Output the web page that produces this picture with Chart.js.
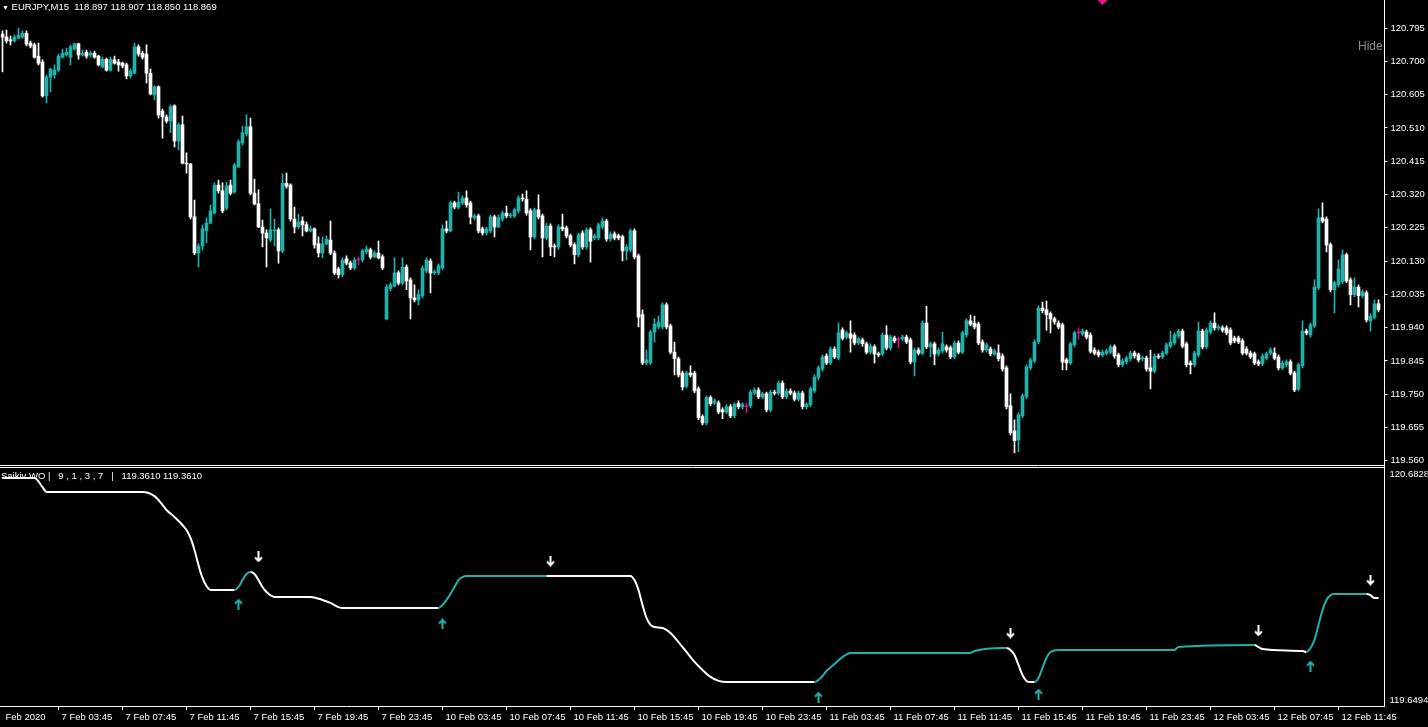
<!DOCTYPE html>
<html>
<head>
<meta charset="utf-8">
<script src="https://cdn.jsdelivr.net/npm/chart.js@4.4.0/dist/chart.umd.min.js"></script>
<style>
  body { margin: 0; background: #000; width: 1428px; height: 727px; overflow: hidden; position: relative; font-family: "Liberation Sans", Arial, sans-serif; }
  canvas { position: absolute; left: 0; }
  #price { top: 0; }
  #osc { top: 466px; }
  .lbl { position: absolute; color: #fff; font-size: 9.5px; white-space: pre; line-height: 11px; }
</style>
</head>
<body>
<canvas id="price" width="1428" height="467"></canvas>
<canvas id="osc" width="1428" height="261"></canvas>
<div class="lbl" style="left:2px;top:1px"><span style="font-size:7px">▼</span> EURJPY,M15  118.897 118.907 118.850 118.869</div>
<div class="lbl" style="left:1px;top:470px">Saikiv WO |   9 , 1 , 3 , 7   |   119.3610 119.3610</div>
<div class="lbl" style="left:1358px;top:41px;color:#8c8c8c;font-size:12px">Hide</div>
<script>
// EURJPY M15 candles, one entry per bar
const opens = [
  120.778,120.769,120.761,120.758,120.766,120.769,120.780,120.752,120.747,120.715,120.698,120.601,120.655,120.661,120.675,
  120.712,120.718,120.712,120.735,120.750,120.718,120.726,120.718,120.723,120.715,120.684,120.706,120.675,120.704,120.698,
  120.695,120.690,120.658,120.666,120.741,120.723,120.721,120.666,120.604,120.627,120.558,120.541,120.530,120.573,120.473,
  120.519,120.409,120.407,120.256,120.153,120.173,120.216,120.238,120.267,120.347,120.330,120.281,120.347,120.327,120.398,
  120.467,120.493,120.513,120.324,120.293,120.227,120.210,120.190,120.216,120.219,120.159,120.352,120.347,120.250,120.227,
  120.244,120.233,120.216,120.222,120.179,120.153,120.179,120.190,120.153,120.107,120.091,120.136,120.124,120.110,120.133,
  120.133,120.156,120.162,120.142,120.153,120.142,119.965,120.051,120.059,120.096,120.067,120.113,120.076,120.025,120.019,
  120.031,120.102,120.130,120.096,120.096,120.110,120.222,120.216,120.296,120.284,120.296,120.310,120.296,120.253,120.259,
  120.222,120.210,120.216,120.256,120.227,120.250,120.267,120.259,120.259,120.273,120.310,120.307,120.273,120.199,120.276,
  120.259,120.196,120.230,120.173,120.170,120.227,120.224,120.202,120.176,120.148,120.210,120.170,120.219,120.196,120.196,
  120.227,120.244,120.193,120.207,120.202,120.199,120.159,120.162,120.216,120.145,119.977,119.839,119.839,119.927,119.942,
  119.942,120.005,119.945,119.870,119.851,119.810,119.773,119.810,119.810,119.765,119.686,119.668,119.740,119.725,119.725,
  119.705,119.699,119.714,119.688,119.723,119.714,119.714,119.717,119.753,119.762,119.742,119.751,119.705,119.756,119.753,
  119.782,119.742,119.759,119.753,119.736,119.753,119.714,119.720,119.759,119.798,119.822,119.859,119.839,119.879,119.853,
  119.933,119.913,119.922,119.919,119.896,119.905,119.894,119.870,119.885,119.865,119.865,119.919,119.882,119.910,119.905,
  119.908,119.913,119.905,119.842,119.876,119.867,119.953,119.885,119.894,119.865,119.873,119.885,119.882,119.856,119.896,
  119.870,119.919,119.959,119.953,119.950,119.899,119.876,119.879,119.865,119.867,119.859,119.825,119.717,119.645,119.620,
  119.688,119.742,119.825,119.845,119.899,119.996,119.991,119.980,119.965,119.953,119.948,119.848,119.839,119.891,119.925,
  119.922,119.927,119.919,119.876,119.870,119.862,119.867,119.870,119.885,119.862,119.834,119.842,119.851,119.867,119.862,
  119.851,119.853,119.825,119.816,119.859,119.856,119.867,119.887,119.896,119.916,119.930,119.894,119.839,119.834,119.862,
  119.930,119.885,119.927,119.953,119.939,119.939,119.939,119.933,119.910,119.910,119.902,119.879,119.867,119.865,119.842,
  119.836,119.853,119.867,119.867,119.856,119.825,119.834,119.842,119.810,119.765,119.831,119.930,119.919,119.945,120.053,
  120.253,120.250,120.176,120.048,120.062,120.071,120.148,120.076,120.034,120.056,120.031,120.039,119.959,119.970,120.008
];
const highs = [
  120.787,120.789,120.772,120.775,120.795,120.787,120.787,120.758,120.752,120.752,120.704,120.661,120.681,120.690,120.721,
  120.735,120.738,120.747,120.752,120.752,120.732,120.732,120.729,120.729,120.718,120.712,120.709,120.712,120.715,120.706,
  120.698,120.695,120.678,120.752,120.747,120.729,120.747,120.678,120.630,120.630,120.564,120.547,120.576,120.576,120.524,
  120.544,120.439,120.409,120.304,120.179,120.233,120.253,120.290,120.353,120.361,120.353,120.355,120.361,120.409,120.476,
  120.515,120.547,120.538,120.364,120.333,120.247,120.219,120.279,120.250,120.225,120.379,120.381,120.350,120.284,120.264,
  120.256,120.241,120.230,120.225,120.199,120.199,120.202,120.244,120.159,120.113,120.139,120.145,120.130,120.139,120.142,
  120.164,120.173,120.167,120.159,120.187,120.148,120.062,120.068,120.139,120.102,120.139,120.119,120.082,120.062,120.048,
  120.116,120.139,120.136,120.105,120.122,120.233,120.244,120.301,120.301,120.327,120.316,120.330,120.301,120.264,120.264,
  120.227,120.227,120.261,120.261,120.261,120.273,120.287,120.267,120.281,120.316,120.321,120.330,120.279,120.281,120.319,
  120.264,120.238,120.236,120.179,120.233,120.264,120.230,120.207,120.182,120.210,120.216,120.225,120.225,120.207,120.238,
  120.253,120.250,120.213,120.213,120.207,120.204,120.176,120.222,120.222,120.150,119.991,119.876,119.933,119.965,119.973,
  120.011,120.011,119.950,119.899,119.856,119.816,119.816,119.831,119.816,119.771,119.691,119.745,119.745,119.737,119.731,
  119.711,119.720,119.720,119.725,119.731,119.725,119.725,119.762,119.768,119.768,119.756,119.756,119.762,119.762,119.788,
  119.788,119.765,119.765,119.759,119.759,119.759,119.725,119.771,119.805,119.831,119.862,119.865,119.885,119.885,119.953,
  119.939,119.930,119.959,119.925,119.913,119.910,119.899,119.894,119.891,119.870,119.925,119.945,119.919,119.916,119.913,
  119.919,119.919,119.910,119.882,119.882,119.959,120.001,119.899,119.899,119.882,119.927,119.891,119.888,119.902,119.902,
  119.930,119.965,119.976,119.973,119.956,119.905,119.896,119.885,119.879,119.891,119.865,119.831,119.751,119.677,119.697,
  119.751,119.834,119.853,119.905,120.002,120.013,120.016,119.985,119.970,119.959,119.953,119.853,119.899,119.930,119.939,
  119.936,119.933,119.925,119.882,119.876,119.876,119.879,119.891,119.891,119.867,119.851,119.859,119.873,119.873,119.867,
  119.859,119.859,119.876,119.865,119.865,119.873,119.896,119.930,119.925,119.936,119.936,119.899,119.845,119.873,119.956,
  119.936,119.939,119.959,119.982,119.948,119.945,119.945,119.939,119.916,119.916,119.908,119.885,119.873,119.870,119.848,
  119.865,119.870,119.882,119.882,119.862,119.845,119.848,119.848,119.816,119.839,119.959,119.936,119.953,120.076,120.279,
  120.296,120.256,120.182,120.073,120.133,120.162,120.153,120.082,120.082,120.062,120.048,120.045,119.979,120.019,120.019
];
const lows = [
  120.670,120.752,120.747,120.755,120.764,120.766,120.744,120.738,120.709,120.690,120.598,120.581,120.613,120.652,120.670,
  120.709,120.715,120.690,120.732,120.706,120.715,120.709,120.712,120.709,120.687,120.681,120.672,120.672,120.692,120.672,
  120.681,120.650,120.652,120.664,120.715,120.706,120.638,120.604,120.590,120.538,120.481,120.524,120.496,120.456,120.447,
  120.407,120.381,120.250,120.148,120.113,120.162,120.182,120.236,120.264,120.324,120.267,120.276,120.319,120.324,120.398,
  120.461,120.487,120.319,120.290,120.225,120.170,120.113,120.185,120.173,120.124,120.153,120.338,120.244,120.210,120.222,
  120.202,120.213,120.213,120.167,120.142,120.139,120.176,120.148,120.091,120.082,120.085,120.119,120.105,120.105,120.119,
  120.127,120.150,120.136,120.139,120.136,120.105,119.962,120.045,120.056,120.062,120.062,120.048,119.965,120.013,120.005,
  120.025,120.096,120.039,120.091,120.091,120.105,120.210,120.213,120.279,120.279,120.290,120.284,120.236,120.247,120.210,
  120.204,120.204,120.210,120.199,120.225,120.244,120.253,120.253,120.253,120.267,120.301,120.261,120.162,120.193,120.250,
  120.142,120.190,120.145,120.142,120.164,120.216,120.196,120.170,120.122,120.142,120.164,120.164,120.127,120.190,120.190,
  120.222,120.187,120.187,120.190,120.190,120.130,120.133,120.156,120.136,119.942,119.834,119.834,119.834,119.899,119.936,
  119.936,119.936,119.865,119.805,119.799,119.762,119.768,119.799,119.754,119.677,119.662,119.662,119.717,119.720,119.694,
  119.680,119.694,119.683,119.683,119.708,119.708,119.697,119.711,119.748,119.737,119.737,119.699,119.699,119.748,119.748,
  119.737,119.737,119.748,119.731,119.731,119.708,119.708,119.714,119.754,119.791,119.816,119.834,119.834,119.851,119.848,
  119.905,119.908,119.870,119.891,119.891,119.887,119.865,119.865,119.839,119.856,119.859,119.876,119.876,119.896,119.882,
  119.902,119.894,119.836,119.802,119.862,119.862,119.879,119.856,119.834,119.859,119.867,119.870,119.851,119.851,119.865,
  119.865,119.913,119.945,119.936,119.891,119.870,119.870,119.859,119.859,119.845,119.816,119.708,119.634,119.583,119.586,
  119.683,119.737,119.819,119.839,119.894,119.982,119.933,119.925,119.950,119.936,119.819,119.819,119.834,119.885,119.908,
  119.916,119.908,119.867,119.862,119.856,119.856,119.862,119.865,119.853,119.828,119.828,119.836,119.845,119.853,119.842,
  119.845,119.816,119.765,119.811,119.851,119.851,119.862,119.882,119.891,119.910,119.882,119.828,119.808,119.828,119.856,
  119.879,119.879,119.922,119.933,119.933,119.927,119.919,119.891,119.896,119.894,119.862,119.862,119.851,119.834,119.831,
  119.831,119.848,119.862,119.848,119.819,119.819,119.828,119.805,119.757,119.759,119.825,119.919,119.913,119.939,120.048,
  120.239,120.156,120.042,119.982,120.056,120.065,120.068,120.005,120.028,119.999,120.025,119.956,119.930,119.965,119.985
];
const closes = [
  120.769,120.758,120.758,120.769,120.775,120.780,120.750,120.744,120.712,120.695,120.601,120.655,120.678,120.675,120.715,
  120.723,120.726,120.741,120.750,120.718,120.723,120.715,120.723,120.712,120.690,120.706,120.675,120.706,120.695,120.690,
  120.687,120.658,120.672,120.741,120.721,120.712,120.666,120.607,120.627,120.547,120.541,120.530,120.570,120.473,120.519,
  120.409,120.407,120.256,120.153,120.173,120.222,120.238,120.273,120.347,120.330,120.273,120.344,120.324,120.404,120.470,
  120.496,120.513,120.324,120.293,120.227,120.210,120.196,120.219,120.219,120.159,120.352,120.344,120.250,120.227,120.241,
  120.233,120.216,120.222,120.176,120.153,120.179,120.193,120.153,120.096,120.091,120.133,120.124,120.110,120.133,120.133,
  120.159,120.164,120.142,120.153,120.139,120.110,120.056,120.062,120.096,120.067,120.113,120.073,120.025,120.019,120.034,
  120.110,120.133,120.096,120.099,120.116,120.222,120.216,120.296,120.284,120.298,120.310,120.290,120.256,120.259,120.216,
  120.210,120.222,120.256,120.227,120.253,120.267,120.259,120.262,120.276,120.310,120.307,120.267,120.199,120.276,120.256,
  120.196,120.230,120.170,120.170,120.227,120.222,120.202,120.176,120.148,120.205,120.170,120.219,120.187,120.202,120.233,
  120.244,120.193,120.207,120.196,120.196,120.159,120.170,120.216,120.142,119.970,119.839,119.848,119.927,119.950,119.956,
  120.005,119.942,119.870,119.851,119.805,119.771,119.810,119.805,119.759,119.683,119.668,119.740,119.723,119.731,119.699,
  119.699,119.714,119.688,119.720,119.714,119.720,119.714,119.756,119.762,119.742,119.751,119.705,119.756,119.753,119.782,
  119.742,119.759,119.753,119.736,119.753,119.714,119.720,119.765,119.799,119.825,119.856,119.839,119.879,119.856,119.925,
  119.910,119.925,119.910,119.896,119.908,119.894,119.870,119.887,119.865,119.862,119.919,119.882,119.913,119.902,119.905,
  119.913,119.899,119.842,119.876,119.867,119.953,119.885,119.894,119.865,119.876,119.894,119.876,119.856,119.896,119.870,
  119.925,119.959,119.950,119.942,119.896,119.876,119.891,119.865,119.873,119.851,119.822,119.714,119.640,119.617,119.691,
  119.745,119.828,119.848,119.899,119.996,119.988,119.977,119.965,119.956,119.942,119.842,119.839,119.894,119.925,119.925,
  119.930,119.913,119.873,119.867,119.862,119.870,119.873,119.885,119.859,119.834,119.845,119.853,119.867,119.859,119.848,
  119.853,119.822,119.816,119.859,119.856,119.867,119.891,119.899,119.919,119.930,119.887,119.834,119.834,119.867,119.930,
  119.885,119.933,119.953,119.939,119.942,119.933,119.925,119.896,119.902,119.899,119.867,119.867,119.856,119.839,119.836,
  119.859,119.865,119.876,119.853,119.825,119.839,119.842,119.810,119.762,119.834,119.930,119.925,119.948,120.056,120.253,
  120.244,120.176,120.048,120.068,120.107,120.148,120.073,120.034,120.056,120.031,120.042,119.962,119.973,120.008,119.991
];

// price scale labels of the upper window
const priceTicks = [119.560, 119.655, 119.750, 119.845, 119.940, 120.035, 120.130, 120.225, 120.320, 120.415, 120.510, 120.605, 120.700, 120.795];

// time axis labels (bar index -> text)
const tickBars = [0, 14, 30, 46, 62, 78, 94, 110, 126, 142, 158, 174, 190, 206, 222, 238, 254, 270, 286, 302, 318, 334];
const tickLabels = ['Feb 2020', '7 Feb 03:45', '7 Feb 07:45', '7 Feb 11:45', '7 Feb 15:45', '7 Feb 19:45', '7 Feb 23:45',
  '10 Feb 03:45', '10 Feb 07:45', '10 Feb 11:45', '10 Feb 15:45', '10 Feb 19:45', '10 Feb 23:45',
  '11 Feb 03:45', '11 Feb 07:45', '11 Feb 11:45', '11 Feb 15:45', '11 Feb 19:45', '11 Feb 23:45',
  '12 Feb 03:45', '12 Feb 07:45', '12 Feb 11:45'];

// object marker on the price window
const markBar = 275;
const markPrice = 120.875;

// indicator line, read at its bends; trend: d = falling (white), u = rising (teal)
const indBars = [0, 8, 10, 11, 35, 38, 40, 41, 43, 45, 46, 47, 48, 49, 50, 51, 52, 58, 59, 60, 61, 62, 63, 64, 65, 66, 68, 77, 80, 82, 84, 85,
  109, 110, 111, 112, 113, 114, 115, 116, 136, 157, 158, 159, 160, 161, 162, 163, 165, 167, 169, 171, 173, 175, 177, 179, 181,
  203, 204, 205, 206, 208, 210, 212, 242, 243, 250, 251, 252, 253, 254, 255, 256, 257, 258, 259, 260, 261, 262, 264,
  293, 294, 313, 314, 315, 325, 326, 327, 328, 329, 330, 331, 332, 333, 341, 342, 343, 344];
const indValues = [120.635, 120.635, 120.596, 120.575, 120.575, 120.557, 120.519, 120.497, 120.467, 120.432, 120.410, 120.376, 120.324, 120.259, 120.203, 120.168, 120.151, 120.151,
  120.164, 120.194, 120.220, 120.229, 120.220, 120.194, 120.164, 120.142, 120.121, 120.121, 120.108, 120.095, 120.077, 120.073,
  120.073, 120.086, 120.108, 120.134, 120.164, 120.194, 120.207, 120.212, 120.212, 120.212, 120.194, 120.151, 120.086, 120.030, 120.000, 119.991, 119.987, 119.965, 119.926, 119.883, 119.840, 119.805, 119.775, 119.758, 119.753,
  119.753, 119.762, 119.779, 119.801, 119.831, 119.861, 119.879, 119.879, 119.887, 119.900, 119.900, 119.892, 119.870, 119.827, 119.783, 119.758, 119.753, 119.753, 119.770, 119.814, 119.857, 119.883, 119.892,
  119.892, 119.904, 119.913, 119.904, 119.896, 119.887, 119.883, 119.900, 119.935, 120.000, 120.064, 120.108, 120.129, 120.134, 120.134, 120.129, 120.116, 120.116];
const indTrend = ['d','d','d','d','d','d','d','d','d','d','d','d','d','d','d','d','d','d',
  'u','u','u','u','d','d','d','d','d','d','d','d','d','d',
  'd','u','u','u','u','u','u','u','u','d','d','d','d','d','d','d','d','d','d','d','d','d','d','d','d',
  'd','u','u','u','u','u','u','u','u','u','u','d','d','d','d','d','d','d','u','u','u','u','u',
  'u','u','u','d','d','d','d','u','u','u','u','u','u','u','u','d','d','d'];
const indScale = [120.6828, 119.6494];

// signal arrows
const downArrowBars = [64, 137, 252, 314, 342];
const downArrowValues = [120.294, 120.276, 119.965, 119.974, 120.194];
const upArrowBars = [59, 110, 204, 259, 327];
const upArrowValues = [120.090, 120.004, 119.688, 119.701, 119.822];

const bull = '#20b2aa';
const bear = '#ffffff';
const doji = '#c71585';
const axisFont = { family: 'Liberation Sans', size: 9.5 };

Chart.defaults.color = '#fff';
Chart.defaults.font.family = 'Liberation Sans';

const candleColors = closes.map((c, i) => c > opens[i] ? bull : (c < opens[i] ? bear : doji));
const slots = opens.map((_, i) => i).concat([opens.length]);

// scales must not eat into the plot area for their labels
function noPad(s) {
    s.paddingTop = 0;
    s.paddingBottom = 0;
    s.paddingLeft = 0;
    s.paddingRight = 0;
}

const frameLines = {
    id: 'frameLines',
    afterDraw(chart, args, opts) {
        const {ctx, chartArea: a} = chart;
        ctx.save();
        ctx.strokeStyle = '#fff';
        ctx.lineWidth = 1;
        ctx.beginPath();
        if (opts.top) { ctx.moveTo(0, a.top + 0.5); ctx.lineTo(a.right, a.top + 0.5); }
        if (opts.bottom) { ctx.moveTo(0, a.bottom - 0.5); ctx.lineTo(a.right, a.bottom - 0.5); }
        ctx.stroke();
        ctx.restore();
    }
};

function arrowImage(color, down) {
    const c = document.createElement('canvas');
    c.width = 9;
    c.height = 11;
    const g = c.getContext('2d');
    g.strokeStyle = color;
    g.lineWidth = 2;
    g.beginPath();
    if (down) {
        g.moveTo(4.5, 0); g.lineTo(4.5, 10);
        g.moveTo(1, 6); g.lineTo(4.5, 9.5); g.lineTo(8, 6);
    } else {
        g.moveTo(4.5, 11); g.lineTo(4.5, 1);
        g.moveTo(1, 5); g.lineTo(4.5, 1.5); g.lineTo(8, 5);
    }
    g.stroke();
    return c;
}

new Chart(document.getElementById('price'), {
    type: 'bar',
    data: {
        labels: slots,
        datasets: [
            {
                data: opens.map((o, i) => [o, closes[i]]),
                backgroundColor: candleColors,
                barThickness: 3,
                minBarLength: 1,
                grouped: false
            },
            {
                data: lows.map((l, i) => [l, highs[i]]),
                backgroundColor: candleColors,
                barThickness: 1,
                grouped: false
            },
            {
                type: 'scatter',
                data: [{x: markBar, y: markPrice}],
                pointStyle: 'rectRot',
                pointRadius: 5,
                backgroundColor: '#e8138b',
                borderWidth: 0
            }
        ]
    },
    options: {
        responsive: false,
        animation: false,
        events: [],
        layout: { autoPadding: false, padding: { left: 0.5, right: 0.5, top: 0, bottom: 1 } },
        plugins: { legend: { display: false }, tooltip: { enabled: false }, frameLines: { bottom: true } },
        scales: {
            x: { display: false },
            y: {
                position: 'right',
                min: 119.545,
                max: 120.875,
                afterBuildTicks: s => { s.ticks = priceTicks.map(v => ({value: v})); },
                afterFit: s => { s.width = 43; noPad(s); },
                ticks: { color: '#fff', font: axisFont, padding: 3, callback: v => v.toFixed(3) },
                grid: { drawOnChartArea: false, tickLength: 3, color: '#fff' },
                border: { display: true, color: '#fff' }
            }
        }
    },
    plugins: [frameLines]
});

new Chart(document.getElementById('osc'), {
    type: 'line',
    data: {
        datasets: [
            {
                data: indBars.map((b, i) => ({x: b, y: indValues[i]})),
                borderColor: '#fff',
                borderWidth: 2,
                pointRadius: 0,
                cubicInterpolationMode: 'monotone',
                segment: { borderColor: c => indTrend[c.p1DataIndex] === 'u' ? bull : '#fff' }
            },
            {
                type: 'scatter',
                data: downArrowBars.map((b, i) => ({x: b, y: downArrowValues[i]})),
                pointStyle: arrowImage('#fff', true),
                pointRadius: 5
            },
            {
                type: 'scatter',
                data: upArrowBars.map((b, i) => ({x: b, y: upArrowValues[i]})),
                pointStyle: arrowImage(bull, false),
                pointRadius: 5
            }
        ]
    },
    options: {
        responsive: false,
        animation: false,
        events: [],
        layout: { autoPadding: false, padding: { left: 0.5, right: 0.5, top: 1, bottom: 0 } },
        plugins: { legend: { display: false }, tooltip: { enabled: false }, frameLines: { top: true } },
        scales: {
            x: {
                type: 'linear',
                min: -0.5,
                max: slots.length - 0.5,
                afterBuildTicks: s => { s.ticks = tickBars.map(v => ({value: v})); },
                afterFit: s => { s.height = 21; noPad(s); },
                ticks: {
                    autoSkip: false, maxRotation: 0, align: 'start', labelOffset: 3, padding: 2,
                    color: '#fff', font: axisFont,
                    callback: v => tickLabels[tickBars.indexOf(v)]
                },
                grid: { drawOnChartArea: false, tickLength: 4, color: c => (c.tick && c.tick.value === 0) ? 'rgba(0,0,0,0)' : '#fff' },
                border: { display: true, color: '#fff' }
            },
            y: {
                position: 'right',
                min: indScale[1],
                max: indScale[0],
                afterBuildTicks: s => {
                    const px = (s.max - s.min) / 239;
                    s.ticks = [{value: s.max - 7 * px}, {value: s.min + 6 * px}];
                },
                afterFit: s => { s.width = 43; noPad(s); },
                ticks: { color: '#fff', font: axisFont, padding: 5, callback: (v, i) => indScale[i].toFixed(4) },
                grid: { drawOnChartArea: false, drawTicks: false, color: '#fff' },
                border: { display: true, color: '#fff' }
            }
        }
    },
    plugins: [frameLines]
});
</script>
</body>
</html>
